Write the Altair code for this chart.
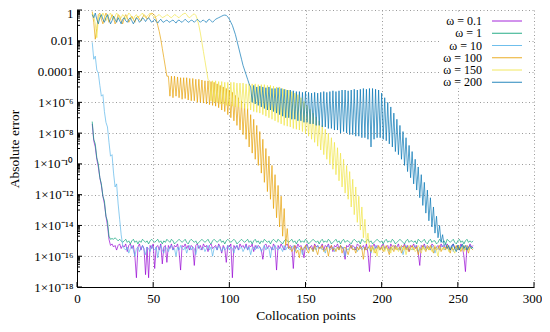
import altair as alt
import pandas as pd

# ---------------- data (log10 of absolute error, collocation points 10..260) ----------------
X_START = 10
labels = ["ω = 0.1", "ω = 1", "ω = 10", "ω = 100", "ω = 150", "ω = 200"]
colors = ["#9400d3", "#009e73", "#56b4e9", "#e69f00", "#f0e442", "#0072b2"]

w0_1 = [
    -7.4, -8.5, -8.9, -9.7, -10.2, -10.9, -11.4, -12.1, -12.6, -13.4,
    -14.0, -14.9, -15.3, -15.2, -15.4, -15.3, -15.6, -15.3, -15.2, -15.5,
    -15.3, -15.4, -15.2, -15.7, -15.3, -15.2, -15.5, -15.3, -16.0, -17.4,
    -15.4, -15.2, -15.6, -15.3, -15.5, -17.2, -15.4, -17.4, -15.3, -15.5,
    -15.2, -16.8, -15.4, -15.3, -15.6, -15.2, -16.5, -15.4, -15.3, -16.4,
    -15.3, -15.5, -15.2, -15.6, -15.3, -15.4, -15.2, -15.7, -16.9, -15.3,
    -15.4, -15.2, -15.5, -15.3, -15.6, -15.3, -15.4, -16.6, -15.3, -15.2,
    -15.5, -15.3, -15.6, -15.2, -15.4, -15.3, -15.7, -15.3, -15.2, -15.5,
    -15.4, -15.3, -15.6, -15.2, -15.4, -15.8, -15.3, -15.5, -16.4, -15.3,
    -15.4, -15.2, -17.4, -15.3, -15.5, -15.3, -15.6, -15.2, -15.4, -15.3,
    -15.5, -15.2, -15.6, -15.3, -15.4, -15.2, -15.7, -15.3, -15.5, -15.3,
    -15.4, -15.6, -16.2, -15.3, -15.2, -15.5, -15.3, -15.4, -15.6, -15.2,
    -15.4, -16.9, -15.3, -15.5, -15.2, -15.4, -15.6, -15.3, -15.2, -15.5,
    -15.3, -15.4, -16.8, -15.3, -15.5, -15.2, -15.4, -15.3, -15.6, -16.1,
    -15.3, -15.2, -15.5, -15.4, -15.3, -15.6, -15.2, -15.4, -15.3, -15.5,
    -15.4, -15.2, -15.6, -15.3, -15.4, -15.2, -15.5, -15.3, -15.7, -15.3,
    -15.4, -15.2, -15.5, -15.3, -15.4, -15.6, -16.2, -15.3, -15.4, -15.2,
    -15.5, -15.3, -15.4, -15.6, -15.2, -15.3, -15.5, -15.4, -15.3, -15.6,
    -15.2, -15.8, -17.0, -15.3, -15.4, -15.2, -15.5, -15.3, -15.4, -15.6,
    -15.3, -15.2, -15.5, -15.4, -15.3, -15.6, -15.2, -15.4, -15.3, -15.5,
    -15.4, -15.2, -15.6, -15.3, -15.4, -15.2, -15.5, -15.3, -15.7, -15.3,
    -15.4, -15.2, -15.5, -15.3, -15.8, -16.6, -15.3, -15.4, -15.2, -15.5,
    -15.3, -15.4, -15.6, -15.2, -15.3, -15.5, -15.4, -15.3, -15.6, -15.2,
    -15.4, -15.3, -15.5, -15.2, -15.4, -15.6, -15.3, -15.2, -15.5, -15.4,
    -15.3, -15.6, -15.2, -15.4, -16.0, -17.0, -15.3, -15.5, -15.2, -15.4,
    -15.3,
]

w1 = [
    -7.25, -8.4, -8.7, -9.6, -10.0, -10.9, -11.3, -12.1, -12.4, -13.4,
    -13.7, -14.7, -14.9, -14.85, -14.9, -14.8, -14.9, -15.0, -14.9, -15.0,
    -15.1, -15.0, -14.9, -15.1, -15.0, -15.2, -15.0, -14.9, -15.1, -15.0,
    -15.2, -15.0, -15.1, -14.9, -15.0, -15.1, -15.0, -15.2, -15.0, -14.9,
    -15.0, -15.1, -15.0, -14.9, -15.1, -15.0, -15.2, -15.0, -15.1, -14.9,
    -15.0, -15.1, -14.9, -15.0, -15.2, -15.1, -15.0, -14.9, -15.0, -15.1,
    -15.0, -14.9, -15.1, -15.2, -15.0, -14.9, -15.0, -15.1, -15.0, -15.2,
    -15.1, -15.0, -14.9, -15.0, -15.1, -15.0, -14.9, -15.1, -15.2, -15.0,
    -14.9, -15.0, -15.1, -15.0, -14.9, -15.1, -15.0, -15.2, -15.0, -14.9,
    -15.0, -15.1, -15.0, -14.9, -15.0, -15.2, -15.1, -15.0, -14.9, -15.0,
    -15.1, -15.0, -14.9, -15.1, -15.0, -15.2, -15.0, -14.9, -15.1, -15.0,
    -15.2, -15.0, -15.1, -14.9, -15.0, -15.1, -15.0, -15.2, -15.0, -14.9,
    -15.0, -15.1, -14.9, -15.0, -15.1, -15.2, -15.0, -14.9, -15.0, -15.1,
    -15.0, -14.9, -15.1, -15.0, -15.2, -15.0, -14.9, -15.1, -15.0, -15.1,
    -14.9, -15.0, -15.2, -15.1, -15.0, -14.9, -15.0, -15.1, -15.0, -15.2,
    -15.0, -14.9, -15.1, -15.0, -15.1, -14.9, -15.0, -15.2, -15.1, -15.0,
    -14.9, -15.1, -15.0, -15.2, -15.0, -14.9, -15.1, -15.0, -15.0, -15.1,
    -15.2, -15.0, -14.9, -15.0, -15.1, -15.0, -15.2, -14.9, -15.0, -15.1,
    -15.0, -14.9, -15.1, -15.0, -15.2, -15.1, -15.0, -14.9, -15.0, -15.1,
    -15.0, -15.2, -15.0, -14.9, -15.1, -15.0, -15.1, -14.9, -15.0, -15.2,
    -15.1, -15.0, -14.9, -15.0, -15.1, -15.2, -15.0, -14.9, -15.1, -15.0,
    -15.0, -15.1, -15.0, -15.2, -14.9, -15.0, -15.1, -15.0, -14.9, -15.1,
    -15.2, -15.0, -14.9, -15.1, -15.0, -15.0, -15.2, -15.1, -14.9, -15.0,
    -15.1, -15.0, -15.2, -14.9, -15.0, -15.1, -15.0, -14.9, -15.1, -15.2,
    -15.0, -14.9, -15.1, -15.0, -15.2, -15.0, -14.9, -15.1, -15.0, -15.1,
    -15.0,
]

w10 = [
    -2.1, -3.2, -3.0, -3.9, -4.1, -4.9, -5.6, -5.5, -6.6, -7.3,
    -7.6, -8.6, -9.5, -9.4, -10.6, -11.5, -11.3, -12.6, -13.6, -14.6,
    -15.3, -15.5, -15.6, -15.4, -15.8, -15.5, -15.3, -15.6, -16.0, -15.5,
    -15.4, -15.7, -15.5, -15.3, -15.6, -15.9, -15.4, -15.5, -15.7, -15.3,
    -15.5, -15.6, -15.4, -16.1, -15.5, -15.3, -15.6, -15.8, -15.4, -15.5,
    -15.7, -15.4, -15.3, -15.6, -15.5, -16.0, -15.4, -15.6, -15.3, -15.5,
    -15.6, -15.4, -15.8, -15.5, -15.3, -15.6, -15.4, -15.5, -15.9, -15.4,
    -15.3, -15.6, -15.5, -15.4, -15.7, -15.5, -15.3, -15.6, -15.4, -16.0,
    -15.5, -15.4, -15.6, -15.3, -15.5, -15.7, -15.4, -15.6, -15.5, -15.3,
    -15.6, -15.4, -15.5, -15.8, -15.4, -15.3, -15.6, -15.5, -15.4, -15.7,
    -15.5, -15.3, -15.6, -15.4, -15.9, -15.5, -15.4, -15.6, -15.3, -15.5,
    -15.4, -15.7, -15.5, -15.3, -15.6, -15.4, -15.5, -16.1, -15.4, -15.6,
    -15.3, -15.5, -15.6, -15.4, -15.5, -15.7, -15.3, -15.6, -15.4, -15.5,
    -15.6, -15.4, -15.3, -15.7, -15.5, -15.4, -15.6, -15.5, -15.9, -15.4,
    -15.5, -15.3, -15.6, -15.4, -15.5, -15.7, -15.4, -15.6, -15.3, -15.5,
    -15.4, -15.6, -15.5, -15.8, -15.4, -15.3, -15.6, -15.5, -15.4, -15.7,
    -15.5, -15.4, -15.6, -15.3, -15.5, -15.4, -16.0, -15.5, -15.6, -15.4,
    -15.3, -15.5, -15.6, -15.4, -15.7, -15.5, -15.3, -15.6, -15.4, -15.5,
    -15.6, -15.4, -15.5, -15.8, -15.4, -15.6, -15.3, -15.5, -15.4, -15.6,
    -15.5, -15.3, -15.6, -15.4, -15.5, -15.7, -15.4, -15.6, -15.5, -15.3,
    -15.4, -15.6, -15.5, -15.4, -15.9, -15.5, -15.3, -15.6, -15.4, -15.5,
    -15.6, -15.4, -15.3, -15.5, -15.7, -15.4, -15.6, -15.5, -15.3, -15.6,
    -15.5, -15.4, -15.6, -15.3, -15.5, -15.8, -15.4, -15.5, -15.6, -15.4,
    -15.3, -15.6, -15.5, -15.4, -15.6, -15.5, -15.3, -15.7, -15.4, -15.5,
    -15.6, -15.4, -15.5, -15.3, -15.6, -15.5, -15.4, -15.6, -15.5, -15.4,
    -15.5,
]

w100 = [
    -0.1, -0.8, -1.9, -1.2, -0.3, -0.2, -0.6, -0.9, -0.5, -0.2,
    -0.4, -0.8, -0.6, -0.3, -0.5, -0.9, -0.7, -0.3, -0.4, -0.7,
    -0.9, -0.5, -0.3, -0.5, -0.8, -0.6, -0.4, -0.6, -0.8, -0.5,
    -0.4, -0.6, -0.7, -0.5, -0.3, -0.4, -0.6, -0.5, -0.3, -0.2,
    -0.25, -0.35, -0.6, -1.0, -1.4, -1.9, -2.5, -3.1, -3.7, -4.3,
    -4.3, -5.6, -4.3, -5.7, -4.3, -5.6, -4.35, -5.7, -4.4, -5.8,
    -4.4, -5.75, -4.4, -5.85, -4.45, -5.9, -4.45, -5.9, -4.5, -6.0,
    -4.5, -6.0, -4.55, -6.05, -4.6, -6.1, -4.6, -6.15, -4.65, -6.2,
    -4.7, -6.25, -4.8, -6.35, -4.9, -6.5, -5.0, -6.6, -5.1, -6.8,
    -5.2, -7.0, -5.35, -7.2, -5.55, -7.5, -5.7, -7.8, -5.9, -8.1,
    -6.1, -8.4, -6.4, -8.9, -6.8, -9.3, -7.1, -9.7, -7.5, -10.1,
    -7.9, -10.6, -8.4, -11.2, -9.0, -11.8, -9.5, -12.3, -10.1, -12.9,
    -10.7, -13.5, -11.4, -14.1, -12.1, -14.7, -12.9, -15.3, -14.2, -15.5,
    -15.4, -15.7, -15.5, -15.3, -15.8, -15.6, -16.1, -15.4, -15.6, -15.5,
    -15.3, -15.6, -15.8, -15.4, -15.5, -15.7, -15.3, -15.6, -15.9, -15.4,
    -15.5, -15.3, -15.7, -15.6, -15.4, -16.0, -15.5, -15.3, -15.6, -15.5,
    -15.7, -15.4, -15.6, -15.3, -15.8, -15.5, -15.4, -15.6, -15.9, -15.5,
    -15.3, -15.6, -15.5, -15.8, -15.4, -15.6, -15.3, -15.5, -16.2, -15.4,
    -15.6, -15.5, -15.3, -15.7, -15.4, -15.6, -15.8, -15.5, -15.3, -15.6,
    -15.4, -15.7, -15.5, -15.3, -15.6, -15.9, -15.4, -15.5, -15.7, -15.3,
    -15.6, -15.5, -15.4, -15.8, -15.5, -15.3, -15.6, -15.4, -15.7, -15.5,
    -15.3, -15.6, -15.5, -15.4, -15.9, -15.5, -15.6, -15.3, -15.5, -15.7,
    -15.4, -15.6, -15.3, -15.5, -15.8, -15.4, -15.6, -15.5, -15.3, -15.7,
    -15.5, -15.4, -15.6, -15.3, -15.5, -15.8, -15.4, -15.6, -15.5, -15.3,
    -15.6, -15.4, -15.7, -15.5, -15.3, -15.6, -15.5, -15.8, -15.4, -15.5,
    -15.6,
]

w150 = [
    -0.2, -0.4, -0.9, -1.8, -0.6, -0.3, -0.5, -0.2, -0.4, -0.7,
    -0.5, -0.3, -0.2, -0.5, -0.6, -0.4, -0.2, -0.3, -0.6, -0.5,
    -0.3, -0.4, -0.6, -0.4, -0.2, -0.3, -0.5, -0.6, -0.4, -0.3,
    -0.5, -0.4, -0.3, -0.2, -0.4, -0.5, -0.4, -0.3, -0.2, -0.3,
    -0.4, -0.5, -0.45, -0.35, -0.3, -0.4, -0.5, -0.45, -0.4, -0.3,
    -0.35, -0.45, -0.5, -0.4, -0.3, -0.35, -0.45, -0.5, -0.4, -0.3,
    -0.25, -0.2, -0.3, -0.45, -0.5, -0.4, -0.3, -0.25, -0.35, -0.6,
    -1.0, -1.5, -2.1, -2.7, -3.3, -3.9, -4.5, -4.6, -5.9, -4.6,
    -6.0, -4.6, -6.0, -4.65, -6.1, -4.65, -6.1, -4.7, -6.2, -4.7,
    -6.2, -4.7, -6.25, -4.7, -6.3, -4.75, -6.3, -4.75, -6.35, -4.75,
    -6.4, -4.8, -6.45, -4.8, -6.5, -4.8, -6.6, -4.8, -6.65, -4.85,
    -6.7, -4.85, -6.8, -4.85, -6.9, -4.9, -7.0, -4.9, -7.1, -4.95,
    -7.2, -5.0, -7.3, -5.0, -7.4, -5.1, -7.5, -5.15, -7.55, -5.2,
    -7.6, -5.3, -7.7, -5.4, -7.75, -5.5, -7.8, -5.7, -7.9, -5.95,
    -8.05, -6.2, -8.2, -6.45, -8.4, -6.7, -8.6, -6.95, -8.85, -7.2,
    -9.1, -7.5, -9.4, -7.75, -9.7, -8.0, -10.0, -8.3, -10.35, -8.6,
    -10.7, -8.95, -11.1, -9.3, -11.5, -9.7, -11.9, -10.1, -12.3, -10.5,
    -12.8, -11.0, -13.3, -11.5, -13.8, -12.1, -14.3, -12.8, -14.8, -13.6,
    -15.2, -14.5, -15.4, -15.6, -15.3, -15.8, -15.5, -16.0, -15.4, -15.6,
    -15.5, -15.3, -15.7, -15.4, -15.6, -15.5, -15.8, -15.3, -15.5, -15.6,
    -15.4, -15.7, -15.5, -15.3, -15.6, -15.4, -15.9, -15.5, -15.3, -15.6,
    -15.5, -15.4, -15.7, -15.6, -15.3, -15.5, -15.8, -15.4, -15.6, -15.5,
    -15.3, -15.6, -15.4, -15.7, -15.5, -15.3, -15.6, -16.0, -15.4, -15.5,
    -15.6, -15.4, -15.5, -15.3, -15.7, -15.5, -15.4, -15.6, -15.8, -15.4,
    -15.5, -15.3, -15.6, -15.4, -15.7, -15.5, -15.3, -15.6, -15.4, -15.5,
    -15.4,
]

w200 = [
    -0.3, -0.5, -0.2, -0.6, -0.9, -0.5, -0.3, -0.6, -0.8, -0.5,
    -0.3, -0.6, -0.9, -0.7, -0.4, -0.6, -0.8, -0.5, -0.7, -0.9,
    -0.6, -0.5, -0.7, -0.8, -0.6, -0.5, -0.7, -0.9, -0.7, -0.5,
    -0.6, -0.8, -0.7, -0.5, -0.6, -0.75, -0.6, -0.5, -0.65, -0.8,
    -0.7, -0.6, -0.75, -0.85, -0.7, -0.6, -0.75, -0.8, -0.7, -0.65,
    -0.75, -0.8, -0.7, -0.65, -0.75, -0.85, -0.7, -0.65, -0.75, -0.8,
    -0.7, -0.6, -0.7, -0.8, -0.75, -0.65, -0.7, -0.8, -0.7, -0.6,
    -0.7, -0.8, -0.7, -0.65, -0.75, -0.8, -0.65, -0.6, -0.7, -0.8,
    -0.7, -0.6, -0.55, -0.5, -0.45, -0.4, -0.35, -0.33, -0.35, -0.45,
    -0.6, -0.8, -1.0, -1.3, -1.6, -2.0, -2.4, -2.8, -3.2, -3.6,
    -3.9, -4.2, -4.5, -4.8, -5.0, -6.0, -4.9, -6.1, -5.0, -6.2,
    -4.95, -6.3, -5.0, -6.4, -5.05, -6.5, -5.0, -6.5, -5.1, -6.6,
    -5.1, -6.7, -5.05, -6.8, -5.1, -6.9, -5.15, -7.0, -5.2, -7.0,
    -5.2, -7.1, -5.25, -7.1, -5.3, -7.2, -5.3, -7.2, -5.35, -7.3,
    -5.3, -7.3, -5.35, -7.4, -5.4, -7.4, -5.35, -7.5, -5.4, -7.5,
    -5.35, -7.6, -5.3, -7.6, -5.35, -7.7, -5.3, -7.7, -5.25, -7.8,
    -5.3, -7.8, -5.25, -8.0, -5.2, -7.9, -5.2, -8.0, -5.25, -8.1,
    -5.2, -8.1, -5.15, -8.2, -5.2, -8.2, -5.15, -8.3, -5.1, -8.3,
    -5.15, -8.4, -5.1, -8.9, -5.1, -8.4, -5.15, -8.3, -5.2, -8.3,
    -5.4, -8.4, -5.7, -8.5, -6.0, -8.7, -6.3, -8.9, -6.7, -9.2,
    -7.1, -9.4, -7.5, -9.7, -7.9, -10.1, -8.3, -10.5, -8.8, -10.9,
    -9.2, -11.3, -9.7, -11.7, -10.2, -12.2, -10.7, -12.7, -11.2, -13.2,
    -11.7, -13.7, -12.2, -14.1, -12.8, -14.5, -13.4, -14.8, -14.0, -15.1,
    -14.6, -15.3, -15.2, -15.5, -15.3, -15.6, -15.4, -15.2, -15.5, -15.7,
    -15.3, -15.6, -15.4, -15.2, -15.5, -15.3, -15.6, -15.4, -15.3, -15.5,
    -15.4,
]

series = [w0_1, w1, w10, w100, w150, w200]

rows = []
for lab, vals in zip(labels, series):
    for i, v in enumerate(vals):
        rows.append({"n": X_START + i, "err": 10.0 ** v, "omega": lab})
df = pd.DataFrame(rows)

# axis tick positions
x_ticks = [0, 50, 100, 150, 200, 250, 300]
y_major_exp = [0, 2, 4, 6, 8, 10, 12, 14, 16, 18]
y_labels = ["1", "0.01", "0.0001", "1×10⁻⁶", "1×10⁻⁸", "1×10⁻¹⁰",
            "1×10⁻¹²", "1×10⁻¹⁴", "1×10⁻¹⁶", "1×10⁻¹⁸"]
y_major = [10.0 ** (-e) for e in y_major_exp]
y_minor = [k * 10.0 ** (-e) for e in range(1, 19, 2) for k in range(1, 10)]

FONT = "Liberation Serif"
W, H = 457, 277

xscale = alt.Scale(domain=[0, 300], nice=False, zero=False)
yscale = alt.Scale(type="log", domain=[1e-18, 1], nice=False)
cscale = alt.Scale(domain=labels, range=colors)

label_expr = "[" + ",".join("'" + s + "'" for s in y_labels) + "][round(-log(datum.value)/LN10/2)]"

x_axis = alt.Axis(values=x_ticks, title="Collocation points", grid=True,
                  ticks=False, tickSize=0, labelPadding=5, titlePadding=3,
                  labelFlush=False,
                  labelOffset={"condition": {"test": "datum.value >= 300", "value": -2},
                               "value": 0})
y_axis = alt.Axis(values=y_major, labelExpr=label_expr, title="Absolute error",
                  grid=True, ticks=False, tickSize=0, labelPadding=4, titlePadding=12,
                  labelFlush=False,
                  labelOffset={"condition": {"test": "datum.value >= 0.5", "value": 3.5},
                               "value": 0})

lines = alt.Chart(df).mark_line(strokeWidth=0.8, opacity=0.85, clip=True).encode(
    x=alt.X("n:Q", scale=xscale, axis=x_axis),
    y=alt.Y("err:Q", scale=yscale, axis=y_axis),
    color=alt.Color("omega:N", scale=cscale, legend=None),
    detail="omega:N",
)

ymaj_df = pd.DataFrame({"err": y_major})
ymin_df = pd.DataFrame({"err": y_minor})
xt_df = pd.DataFrame({"n": x_ticks})

ytick_major = alt.Chart(ymaj_df).mark_rule(color="black", strokeWidth=1).encode(
    y=alt.Y("err:Q", scale=yscale, axis=y_axis), x=alt.value(0), x2=alt.value(5))
ytick_minor = alt.Chart(ymin_df).mark_rule(color="black", strokeWidth=1).encode(
    y=alt.Y("err:Q", scale=yscale, axis=y_axis), x=alt.value(0), x2=alt.value(3))
xtick = alt.Chart(xt_df).mark_rule(color="black", strokeWidth=1).encode(
    x=alt.X("n:Q", scale=xscale, axis=x_axis), y=alt.value(H), y2=alt.value(H - 5))

# legend (inside, top right, white box)
LEG_TOP, LEG_STEP = 11, 12.25
leg_df = pd.DataFrame({"label": labels,
                       "py": [LEG_TOP + LEG_STEP * i for i in range(len(labels))]})
leg_bg = alt.Chart(pd.DataFrame({"a": [0]})).mark_rect(color="white").encode(
    x=alt.value(363), x2=alt.value(452), y=alt.value(3), y2=alt.value(78))
leg_text = alt.Chart(leg_df).mark_text(align="right", baseline="middle", font=FONT,
                                       fontSize=12, color="black").encode(
    x=alt.value(405), y=alt.Y("py:Q", scale=None), text="label:N")
leg_line = alt.Chart(leg_df).mark_rule(strokeWidth=1, opacity=0.85).encode(
    x=alt.value(415), x2=alt.value(445), y=alt.Y("py:Q", scale=None),
    color=alt.Color("label:N", scale=cscale, legend=None))

chart = alt.layer(lines, ytick_minor, ytick_major, xtick, leg_bg, leg_text, leg_line).properties(
    width=W, height=H,
    autosize=alt.AutoSizeParams(type="none"),
    padding={"left": 69, "top": 2, "right": 8, "bottom": 37},
).configure_view(stroke=None).configure_axis(
    labelFont=FONT, titleFont=FONT, labelFontSize=13, titleFontSize=13.5,
    titleFontWeight="normal", labelColor="black", titleColor="black",
    domainColor="black", domainWidth=1, gridColor="#9a9a9a", gridDash=[1, 2.5],
    gridWidth=1, gridOpacity=1,
)

chart.save("out.html", embed_options={"renderer": "svg", "actions": False})
